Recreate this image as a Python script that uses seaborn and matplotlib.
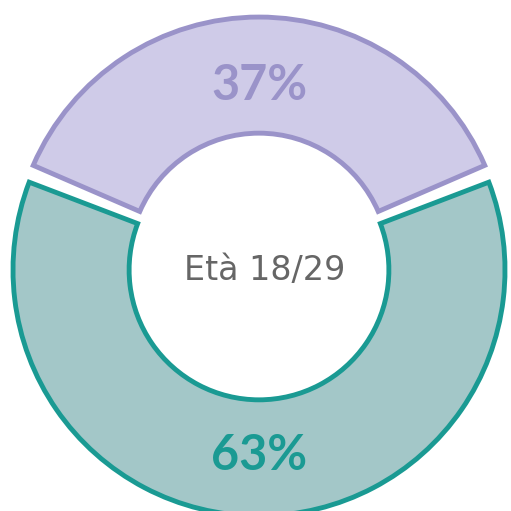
# Donut chart - Età 18/29
import numpy as np
import pandas as pd
from matplotlib import pyplot as plt
import seaborn as sns

sns.set_style('white')
plt.rcParams['font.family'] = ['DejaVu Sans']

# Data
labels = ['Sì', 'No']
values = [37, 63]
center_label = 'Età 18/29'

fill_colors = ['#cfcbe8', '#a3c7c8']
edge_colors = ['#9a93c9', '#1a9a93']

fig = plt.figure(figsize=(5.11, 5.11), dpi=100)
ax = fig.add_axes([0, 0, 1, 1])

wedges, texts, pcts = ax.pie(values, startangle=23.4, counterclock=True,
                             explode=[0.014, 0.014], radius=1,
                             colors=fill_colors, autopct='%.0f%%', pctdistance=0.74,
                             wedgeprops=dict(width=0.472, linewidth=3.5),
                             textprops=dict(family='Lato', weight='bold', fontsize=35))

for w, c in zip(wedges, edge_colors):
    w.set_edgecolor(c)
    w.set_joinstyle('miter')

# small gap on the bigger slice
gap = 2.5
wedges[1].set_theta1(wedges[1].theta1 + gap)
wedges[1].set_theta2(wedges[1].theta2 - gap)

for t, c in zip(pcts, edge_colors):
    t.set_color(c)
    t.set_va('center_baseline')

ax.text(0.025, -0.016, center_label, ha='center', va='center', fontsize=24, color='#666666')

ax.set_xlim(-259 / 246, (511 - 259) / 246)
ax.set_ylim(-244.5 / 246, 266.5 / 246)
ax.set_aspect('auto')
ax.axis('off')

plt.savefig('out.png', dpi=100)
